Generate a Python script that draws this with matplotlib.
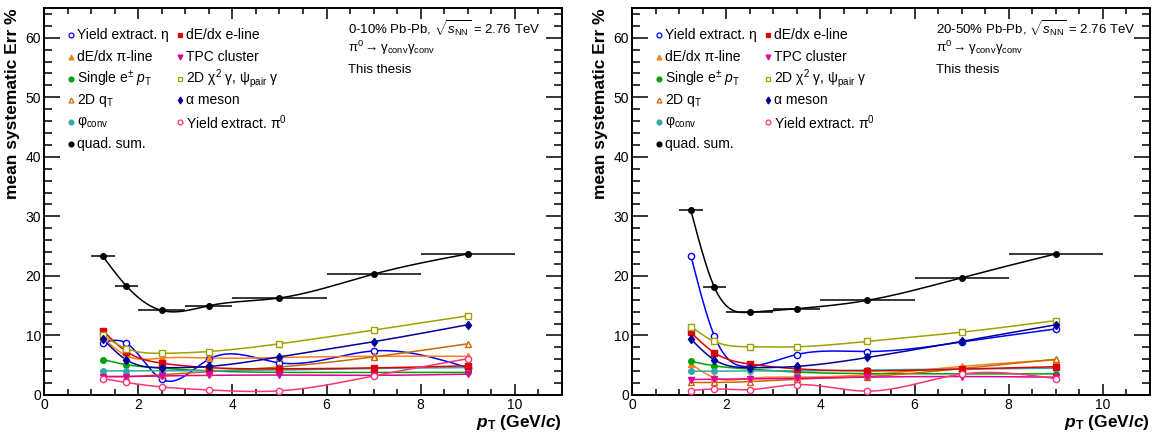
import matplotlib
matplotlib.use("Agg")
import matplotlib.pyplot as plt
import numpy as np
from matplotlib.ticker import MultipleLocator

plt.rcParams['font.family'] = ['Liberation Sans', 'DejaVu Sans']
plt.rcParams['mathtext.fontset'] = 'custom'
plt.rcParams['mathtext.rm'] = 'Liberation Sans'
plt.rcParams['mathtext.it'] = 'Liberation Sans:italic'
plt.rcParams['mathtext.bf'] = 'Liberation Sans:bold'
plt.rcParams['mathtext.bfit'] = 'Liberation Sans:bold:italic'

# pT bins
pt = [1.25, 1.75, 2.5, 3.5, 5.0, 7.0, 9.0]
bin_edges = [1.0, 1.5, 2.0, 3.0, 4.0, 6.0, 8.0, 10.0]

# 0-10% Pb-Pb
eta_c = [8.8, 8.7, 2.65, 6.0, 5.4, 7.4, 4.6]
eline_c = [10.8, 7.3, 5.35, 4.6, 4.4, 4.55, 4.9]
piline_c = [9.6, 6.6, 6.2, 6.2, 6.3, 6.5, 6.5]
tpc_c = [3.1, 3.1, 3.2, 3.3, 3.35, 3.3, 3.5]
single_c = [5.95, 5.1, 4.5, 4.05, 3.8, 3.8, 3.8]
chi2_c = [10.0, 7.8, 7.0, 7.3, 8.6, 10.9, 13.3]
qt_c = [3.1, 3.1, 3.4, 3.9, 4.7, 6.4, 8.6]
alpha_c = [9.4, 5.9, 4.6, 4.8, 6.4, 8.95, 11.8]
phi_c = [4.05, 4.05, 4.05, 4.1, 4.2, 4.45, 4.6]
pi0_c = [2.75, 2.1, 1.35, 0.85, 0.7, 3.2, 6.1]
quad_c = [23.3, 18.3, 14.2, 15.0, 16.3, 20.3, 23.7]

# 20-50% Pb-Pb
eta_p = [23.4, 9.9, 4.8, 6.8, 7.3, 8.9, 11.1]
eline_p = [10.5, 7.1, 5.2, 4.4, 4.05, 4.35, 4.75]
piline_p = [5.25, 2.9, 2.8, 3.0, 3.4, 4.8, 5.9]
tpc_p = [2.6, 2.65, 2.7, 2.8, 3.0, 3.1, 3.0]
single_p = [5.65, 4.9, 4.35, 3.85, 3.6, 3.55, 3.55]
chi2_p = [11.5, 9.0, 8.1, 8.1, 9.0, 10.55, 12.5]
qt_p = [2.1, 2.1, 2.25, 2.65, 3.1, 4.45, 6.0]
alpha_p = [9.4, 5.9, 4.6, 4.8, 6.3, 9.0, 11.8]
phi_p = [4.0, 4.0, 4.05, 4.05, 4.2, 4.35, 4.5]
pi0_p = [0.75, 1.0, 0.9, 1.75, 0.65, 3.5, 2.75]
quad_p = [31.0, 18.1, 13.9, 14.5, 15.9, 19.7, 23.7]

# legend order: left column then right column
labels = ["Yield extract. η", "dE/dx π-line", "Single e$^{\\pm}$ $p_{\\rm T}$",
          "2D q$_{\\rm T}$", "$\\mathrm{\\varphi}_{\\rm conv}$", "quad. sum.",
          "dE/dx e-line", "TPC cluster",
          "2D $\\mathrm{\\chi}^{2}$ $\\mathrm{\\gamma}$, $\\mathrm{\\psi}_{\\rm pair}$ $\\mathrm{\\gamma}$",
          "α meson", "Yield extract. $\\mathrm{\\pi}^{0}$"]
colors = ['#0000ff', '#ff7f1a', '#00a000', '#cc6600', '#33a8a8', '#000000',
          '#dd0000', '#e0009a', '#a0a000', '#000099', '#ff3377']
markers = ['o', '^', 'o', '^', 'o', 'o', 's', 'v', 's', 'd', 'o']
filled = [False, True, True, False, True, True, True, True, False, True, False]

series_c = [eta_c, piline_c, single_c, qt_c, phi_c, quad_c, eline_c, tpc_c, chi2_c, alpha_c, pi0_c]
series_p = [eta_p, piline_p, single_p, qt_p, phi_p, quad_p, eline_p, tpc_p, chi2_p, alpha_p, pi0_p]


def smooth(x, y, n=300):
    # natural cubic spline through the points (like ROOT's "C" draw option)
    x = np.asarray(x, float)
    y = np.asarray(y, float)
    h = np.diff(x)
    m = len(x)
    A = np.zeros((m, m))
    b = np.zeros(m)
    A[0, 0] = 1
    A[-1, -1] = 1
    for i in range(1, m - 1):
        A[i, i - 1] = h[i - 1]
        A[i, i] = 2 * (h[i - 1] + h[i])
        A[i, i + 1] = h[i]
        b[i] = 6 * ((y[i + 1] - y[i]) / h[i] - (y[i] - y[i - 1]) / h[i - 1])
    M = np.linalg.solve(A, b)
    xs = np.linspace(x[0], x[-1], n)
    k = np.clip(np.searchsorted(x, xs) - 1, 0, m - 2)
    t1 = x[k + 1] - xs
    t0 = xs - x[k]
    hk = h[k]
    ys = (M[k] * t1 ** 3 + M[k + 1] * t0 ** 3) / (6 * hk) \
        + (y[k] / hk - M[k] * hk / 6) * t1 + (y[k + 1] / hk - M[k + 1] * hk / 6) * t0
    return xs, ys


def draw_panel(ax, series, title):
    xerr = [np.array(pt) - np.array(bin_edges[:-1]), np.array(bin_edges[1:]) - np.array(pt)]
    for s, c, mk, f in zip(series, colors, markers, filled):
        xs, ys = smooth(pt, s)
        ax.plot(xs, ys, color=c, lw=1.1, zorder=2)
        ax.plot(pt, s, ls='none', marker=mk, ms=4.5 if mk != 'o' or not f else 4,
                mec=c, mfc=c if f else 'white', mew=1.0, zorder=3)
    ax.errorbar(pt, series[5], xerr=xerr, fmt='none', ecolor='black', elinewidth=1.1, capsize=0, zorder=3)

    ax.set_xlim(0, 11)
    ax.set_ylim(0, 65)
    ax.xaxis.set_major_locator(MultipleLocator(2))
    ax.xaxis.set_minor_locator(MultipleLocator(0.5))
    ax.yaxis.set_major_locator(MultipleLocator(10))
    ax.yaxis.set_minor_locator(MultipleLocator(2))
    ax.tick_params(which='both', direction='in', top=True, right=True, labelsize=10, width=1.1)
    ax.tick_params(axis='x', which='major', length=8, pad=2)
    ax.tick_params(axis='x', which='minor', length=4)
    ax.tick_params(axis='y', which='major', length=11.5, pad=2)
    ax.tick_params(axis='y', which='minor', length=6)
    for sp in ax.spines.values():
        sp.set_linewidth(1.4)

    ax.set_ylabel("mean systematic Err %", fontsize=12.5, fontweight='bold', loc='top', labelpad=4)
    ax.set_xlabel(r"$\mathbfit{p}_{\mathbf{T}}$ $\mathbf{(GeV/}\mathbfit{c}\mathbf{)}$",
                  fontsize=12.5, loc='right', labelpad=1)

    # legend drawn by hand, ROOT style (markers only)
    y0 = 0.930
    dy = 0.0563
    for i, (lab, c, mk, f) in enumerate(zip(labels, colors, markers, filled)):
        col = 0 if i < 6 else 1
        row = i if i < 6 else i - 6
        xm = 0.052 if col == 0 else 0.2625
        y = y0 - row * dy
        ax.plot([xm], [y], transform=ax.transAxes, ls='none', marker=mk, ms=3.5,
                mec=c, mfc=c if f else 'white', mew=0.9, clip_on=False)
        ax.text(xm + 0.012, y, lab, transform=ax.transAxes, fontsize=10, va='center', ha='left')

    ax.text(0.587, 0.946, title + r", $\sqrt{s_{\rm NN}}$ = 2.76 TeV", transform=ax.transAxes,
            fontsize=9.5, va='center', ha='left')
    ax.text(0.587, 0.897, r"$\mathrm{\pi}^{0} \rightarrow \mathrm{\gamma}_{\rm conv}\mathrm{\gamma}_{\rm conv}$",
            transform=ax.transAxes, fontsize=9.5, va='center', ha='left')
    ax.text(0.587, 0.840, "This thesis", transform=ax.transAxes, fontsize=9.5, va='center', ha='left')


fig = plt.figure(figsize=(11.68, 4.32), dpi=100)
ax1 = fig.add_axes([44 / 1168, 1 - 395 / 432, 518 / 1168, 387 / 432])
ax2 = fig.add_axes([632 / 1168, 1 - 395 / 432, 518 / 1168, 387 / 432])

draw_panel(ax1, series_c, "0-10% Pb-Pb")
draw_panel(ax2, series_p, "20-50% Pb-Pb")

fig.savefig("out.png", dpi=100)
